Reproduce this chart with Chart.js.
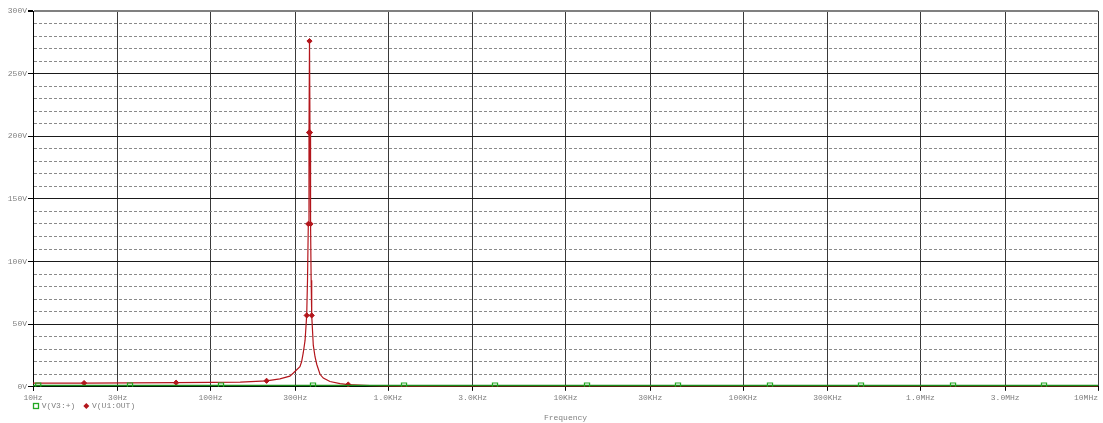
<!DOCTYPE html>
<html>
<head>
<meta charset="utf-8">
<title>AC sweep</title>
<script src="https://cdn.jsdelivr.net/npm/chart.js@4.4.0/dist/chart.umd.min.js"></script>
<style>
  html, body { margin: 0; padding: 0; background: #ffffff; }
  canvas { display: block; }
</style>
</head>
<body>
<canvas id="plot" width="1103" height="423"></canvas>
<script>
// x axis: 10Hz .. 10MHz, gridline every 1-3 step
const xTickVals = [10, 30, 100, 300, 1e3, 3e3, 1e4, 3e4, 1e5, 3e5, 1e6, 3e6, 1e7];
const xTickLabels = ['10Hz', '30Hz', '100Hz', '300Hz', '1.0KHz', '3.0KHz', '10KHz', '30KHz', '100KHz', '300KHz', '1.0MHz', '3.0MHz', '10MHz'];
const yTickLabels = ['0V', '50V', '100V', '150V', '200V', '250V', '300V'];

// V(V3:+) - source, flat over the sweep
const srcFreq = [10, 10.7, 35.2, 114.6, 378, 1231, 4007, 13220, 43030, 141900, 462100, 1525000, 4964000, 1e7];
const srcVolt = [1, 1, 1, 1, 1, 1, 1, 1, 1, 1, 1, 1, 1, 1];
const srcMarks = [1, 2, 3, 4, 5, 6, 7, 8, 9, 10, 11, 12];

// V(U1:OUT) - resonant output
const outFreq = [10, 19.4, 35, 64, 100, 147, 207, 246, 280, 293, 319, 326, 333, 341,
  348.3, 352, 355.6, 358.8, 361.2, 363.6, 366.2, 369, 371.7,
  379.5, 388, 396.7, 414, 432, 471, 537, 597, 792, 1000, 1500, 3000, 1e7];
const outVolt = [2.9, 3.0, 3.1, 3.3, 3.5, 3.8, 4.8, 6.3, 8.5, 11, 16, 20, 27, 37,
  57, 85, 130, 203, 276, 203, 130, 85, 57,
  33, 24, 18, 10, 7, 4.2, 2.5, 1.8, 0.9, 0.5, 0.2, 0.05, 0];
const outMarks = [1, 3, 6, 14, 16, 17, 18, 19, 20, 22, 30];

const RED = '#b3161c';
const GREEN = '#1a8c1a';
const GREEN_MARK = '#22a822';

Chart.defaults.font.family = "'Liberation Mono', 'DejaVu Sans Mono', monospace";
Chart.defaults.font.size = 8;
Chart.defaults.color = '#808080';

const toPoints = (xs, ys) => xs.map((x, i) => ({ x: x, y: ys[i] }));

// legend sits between the tick labels and the axis title
const probeLegend = {
  id: 'probeLegend',
  afterDraw(chart) {
    const ctx = chart.ctx;
    const area = chart.chartArea;
    const y = 406;
    let x = area.left;
    ctx.save();
    ctx.font = "8px 'Liberation Mono', 'DejaVu Sans Mono', monospace";
    ctx.textBaseline = 'middle';
    ctx.textAlign = 'left';
    chart.data.datasets.forEach((ds) => {
      if (ds.pointStyle === 'rect') {
        ctx.strokeStyle = GREEN_MARK;
        ctx.lineWidth = 1.3;
        ctx.strokeRect(x + 0.5, y - 2.5, 5, 5);
      } else {
        ctx.fillStyle = RED;
        ctx.beginPath();
        ctx.moveTo(x + 3, y - 3);
        ctx.lineTo(x + 6, y);
        ctx.lineTo(x + 3, y + 3);
        ctx.lineTo(x, y);
        ctx.closePath();
        ctx.fill();
      }
      ctx.fillStyle = '#808080';
      ctx.fillText(ds.label, x + 8.7, y);
      x += 8.7 + ctx.measureText(ds.label).width + 8;
    });
    ctx.restore();
  }
};

new Chart(document.getElementById('plot'), {
  type: 'line',
  data: {
    datasets: [
      {
        label: 'V(V3:+)',
        data: toPoints(srcFreq, srcVolt),
        borderColor: GREEN,
        borderWidth: 1.5,
        pointStyle: 'rect',
        pointRadius: (c) => srcMarks.includes(c.dataIndex) ? 3.6 : 0,
        pointBorderColor: GREEN_MARK,
        pointBackgroundColor: 'rgba(255,255,255,0)',
        pointBorderWidth: 1.2,
        order: 0
      },
      {
        label: 'V(U1:OUT)',
        data: toPoints(outFreq, outVolt),
        borderColor: RED,
        borderWidth: 1.2,
        pointStyle: 'rectRot',
        pointRadius: (c) => outMarks.includes(c.dataIndex) ? 2.6 : 0,
        pointBorderColor: RED,
        pointBackgroundColor: RED,
        pointBorderWidth: 1,
        order: 1
      }
    ]
  },
  options: {
    responsive: false,
    animation: false,
    layout: { padding: { top: 11, right: 5, bottom: 0, left: 0 } },
    plugins: {
      legend: { display: false },
      tooltip: { enabled: false }
    },
    scales: {
      x: {
        type: 'logarithmic',
        min: 10,
        max: 1e7,
        afterBuildTicks: (scale) => {
          // blank leading tick so 'inner' keeps 10Hz centred and only 10MHz goes right-aligned
          scale.ticks = [{ value: 10, label: '' }].concat(xTickVals.map((v) => ({ value: v })));
        },
        afterFit: (scale) => {
          scale.paddingLeft = 0;
          scale.paddingRight = 0;
        },
        ticks: {
          autoSkip: false,
          maxRotation: 0,
          align: 'inner',
          padding: 2,
          callback: (v, i) => i === 0 ? '' : xTickLabels[xTickVals.indexOf(v)]
        },
        grid: {
          color: '#3a3a3a',
          lineWidth: 1,
          tickLength: 4,
          tickColor: '#000000'
        },
        border: { color: '#000000', width: 1 },
        title: {
          display: true,
          text: 'Frequency',
          color: '#808080',
          padding: { top: 9, bottom: 0 }
        }
      },
      y: {
        min: 0,
        max: 300,
        afterFit: (scale) => { scale.width = 33; },
        ticks: {
          stepSize: 10,
          maxTicksLimit: 40,
          autoSkip: false,
          padding: 1,
          callback: (v) => v % 50 === 0 ? yTickLabels[v / 50] : ''
        },
        grid: {
          color: (c) => {
            const v = c.tick ? c.tick.value : 0;
            if (v === 300) return '#808080';
            return v % 50 === 0 ? '#1a1a1a' : '#8a8a8a';
          },
          lineWidth: (c) => (c.tick && c.tick.value === 300) ? 2 : 1,
          tickLength: 5,
          tickColor: (c) => (c.tick && c.tick.value % 50 === 0) ? '#000000' : 'rgba(0,0,0,0)'
        },
        border: {
          color: '#000000',
          width: 1,
          dash: (c) => (c.tick && c.tick.value % 50 !== 0) ? [3, 2] : []
        }
      }
    }
  },
  plugins: [probeLegend]
});
</script>
</body>
</html>
